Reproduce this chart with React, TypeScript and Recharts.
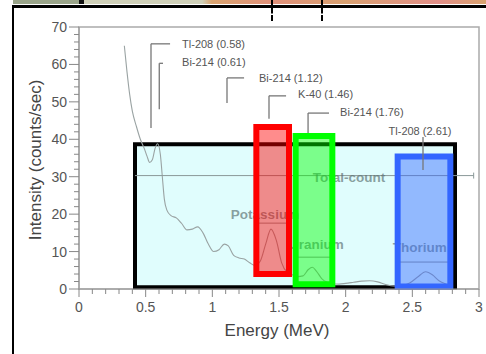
import { LineChart, Line, XAxis, YAxis, ReferenceArea, ReferenceLine, ReferenceDot } from 'recharts';

// gamma-ray spectrum (MeV, counts/sec)
const energy = [
  0.34, 0.36, 0.38, 0.4, 0.43, 0.46, 0.49, 0.51, 0.53, 0.55, 0.57, 0.59, 0.61, 0.625, 0.64, 0.66,
  0.69, 0.73, 0.77, 0.81, 0.85, 0.89, 0.93, 0.97, 1.01, 1.05, 1.09, 1.12, 1.16, 1.2, 1.24, 1.28,
  1.32, 1.36, 1.4, 1.44, 1.48, 1.52, 1.56, 1.6, 1.64, 1.68, 1.72, 1.75, 1.78, 1.82, 1.86, 1.9,
  1.95, 2.0, 2.06, 2.12, 2.18, 2.24, 2.3, 2.36, 2.42, 2.48, 2.54, 2.6, 2.65, 2.7, 2.76, 2.79,
];
const counts = [
  65, 58, 52, 47.5, 43.5, 40, 37.5, 35.5, 33.8, 34.5, 37.5, 38.8, 36, 30, 24, 21,
  19.6, 19, 17.5, 15.8, 16, 16.6, 15, 12, 10, 10.5, 12, 11.5, 9, 8.3, 8, 7,
  6.3, 7.5, 12, 16, 13, 7, 4.5, 3.8, 3.3, 3.5, 5.2, 5.8, 4.8, 2.8, 1.8, 1.4,
  1.3, 1.5, 1.8, 2.1, 2.2, 1.9, 1.2, 0.8, 0.9, 1.6, 3.2, 4.6, 3.8, 2.2, 1.2, 0.8,
];
const spectrum = energy.map((e, i) => ({ e, c: counts[i] }));

const xMajor = [0, 0.5, 1, 1.5, 2, 2.5, 3];
const xTicks = [
  0, 0.1, 0.2, 0.3, 0.4, 0.5, 0.6, 0.7, 0.8, 0.9, 1, 1.1, 1.2, 1.3, 1.4, 1.5,
  1.6, 1.7, 1.8, 1.9, 2, 2.1, 2.2, 2.3, 2.4, 2.5, 2.6, 2.7, 2.8, 2.9, 3,
];
const yMajor = [0, 10, 20, 30, 40, 50, 60, 70];
const yTicks = [
  0, 2, 4, 6, 8, 10, 12, 14, 16, 18, 20, 22, 24, 26, 28, 30, 32, 34, 36,
  38, 40, 42, 44, 46, 48, 50, 52, 54, 56, 58, 60, 62, 64, 66, 68, 70,
];

// counting windows
const windowNames = ['Total-count', 'Potassium', 'Uranium', 'Thorium'];
const windowFrom = [0.42, 1.33, 1.625, 2.39];
const windowTo = [2.82, 1.575, 1.9, 2.785];
const windowLow = [0.5, 4, 1.3, 0.7];
const windowHigh = [38.7, 43.3, 40.9, 35.4];
const windowLevel = [30.3, 17.6, 8.5, 7.2];
const levelEnd = [2.96, 1.575, 1.9, 2.785];
const nameX = [2.025, 1.395, 1.78, 2.555];
const nameY = [29.7, 20, 11.8, 11.2];

// peak annotations
const peakNames = ['Tl-208 (0.58)', 'Bi-214 (0.61)', 'Bi-214 (1.12)', 'K-40 (1.46)', 'Bi-214 (1.76)', 'Tl-208 (2.61)'];
const leaderX = [0.54, 0.602, 1.11, 1.425, 1.718, 2.58];
const leaderLow = [43, 48, 49.7, 45.5, 41.7, 31.8];
const leaderHigh = [65.5, 60.3, 56.4, 51.6, 47, 40.6];
const leaderTo = [0.683, 0.63, 1.238, 1.553, 1.875, 2.58];
const peakLabelX = [0.773, 0.773, 1.35, 1.643, 1.958, 2.558];
const peakLabelY = [65.5, 60.7, 56.4, 52.1, 47.3, 42.2];

const FONT = '"Liberation Sans", Arial, Helvetica, sans-serif';
const boxColors = ['#000000', '#ff0000', '#00ff00', '#3366ff'];

const XTick = (p: any) => {
  const major = xMajor.includes(p.payload.value);
  return (
    <g>
      <line x1={p.x} x2={p.x} y1={p.y} y2={p.y + (major ? 8 : 5)} stroke="#888" />
      {major && (
        <text x={p.x} y={p.y + 23} textAnchor="middle" fontSize={14} fill="#555" fontFamily={FONT}>
          {p.payload.value}
        </text>
      )}
    </g>
  );
};

const YTick = (p: any) => {
  const major = yMajor.includes(p.payload.value);
  return (
    <g>
      <line x1={p.x} x2={p.x - (major ? 10 : 5)} y1={p.y} y2={p.y} stroke="#888" />
      {major && (
        <text x={p.x - 12} y={p.y} textAnchor="end" dominantBaseline="central" fontSize={14} fill="#555" fontFamily={FONT}>
          {p.payload.value}
        </text>
      )}
    </g>
  );
};

const textShape = (label: string, anchor: string, size: number, bold: boolean, color: string) => (p: any) => (
  <text
    x={p.cx}
    y={p.cy}
    textAnchor={anchor}
    dominantBaseline="central"
    fontSize={size}
    fontWeight={bold ? 'bold' : 'normal'}
    fill={color}
    fontFamily={FONT}
  >
    {label}
  </text>
);

export default function App() {
  return (
    <div style={{ position: 'relative', width: 486, height: 354, background: '#fff', overflow: 'hidden' }}>
      <style>{'body{margin:0}'}</style>
      <div
        style={{
          position: 'absolute', left: 13, right: 0, top: 0, height: 4,
          background: 'linear-gradient(90deg,#9aa58a 0%,#9aa58a 14%,#111 14%,#111 15%,#cfd0b8 15%,#cfd0b8 40%,#d9a36f 42%,#e0907a 55%,#d8a070 70%,#e28f88 90%,#d9a36f 100%)',
        }}
      />
      <div style={{ position: 'absolute', left: 12, right: 0, top: 5, height: 3, background: '#000' }} />
      <div style={{ position: 'absolute', left: 12, top: 5, bottom: 0, width: 2, background: '#000' }} />
      <div style={{ position: 'absolute', left: 271, top: 0, height: 21, borderLeft: '2px dashed #000' }} />
      <div style={{ position: 'absolute', left: 321, top: 0, height: 21, borderLeft: '2px dashed #000' }} />
      <div style={{ position: 'absolute', left: 0, top: 0 }}>
        <LineChart width={486} height={354} data={spectrum} margin={{ top: 27, right: 7, bottom: 15, left: 0 }}>
          <XAxis
            dataKey="e"
            type="number"
            domain={[0, 3]}
            ticks={xTicks}
            interval={0}
            height={50}
            tickSize={0}
            tickMargin={0}
            tickLine={false}
            axisLine={{ stroke: '#999' }}
            tick={XTick}
            label={{
              content: (lp: any) => (
                <text
                  x={lp.viewBox.x + lp.viewBox.width / 2 - 2}
                  y={lp.viewBox.y + 47}
                  textAnchor="middle"
                  fontSize={17}
                  fill="#444"
                  fontFamily={FONT}
                >
                  Energy (MeV)
                </text>
              ),
            }}
          />
          <YAxis
            type="number"
            domain={[0, 70]}
            ticks={yTicks}
            interval={0}
            width={79}
            tickSize={0}
            tickMargin={0}
            tickLine={false}
            axisLine={{ stroke: '#999' }}
            tick={YTick}
            label={{
              content: (lp: any) => {
                const cx = lp.viewBox.x + 35;
                const cy = lp.viewBox.y + lp.viewBox.height / 2 + 2;
                return (
                  <text
                    x={cx}
                    y={cy}
                    transform={`rotate(-90 ${cx} ${cy})`}
                    textAnchor="middle"
                    dominantBaseline="central"
                    fontSize={17}
                    fill="#444"
                    fontFamily={FONT}
                  >
                    Intensity (counts/sec)
                  </text>
                );
              },
            }}
          />

          <ReferenceArea x1={0} x2={3} y1={0} y2={70} fill="none" stroke="#aaa" strokeWidth={1.5} zIndex={101} />
          <ReferenceArea
            x1={windowFrom[0]}
            x2={windowTo[0]}
            y1={windowLow[0]}
            y2={windowHigh[0]}
            fill="#e0fdfd"
            fillOpacity={1}
            stroke="#000"
            strokeWidth={4}
            zIndex={102}
          />

          <Line
            dataKey="c"
            type="monotone"
            stroke="#9aa3a3"
            strokeWidth={1.1}
            dot={false}
            activeDot={false}
            isAnimationActive={false}
            zIndex={103}
          />

          {windowNames.map((n, i) => (
            <ReferenceLine
              key={'lv' + n}
              segment={[{ x: windowFrom[i], y: windowLevel[i] }, { x: levelEnd[i], y: windowLevel[i] }]}
              stroke="#8a9898"
              strokeWidth={1}
              zIndex={104}
            />
          ))}
          <ReferenceLine
            segment={[{ x: levelEnd[0], y: windowLevel[0] - 0.8 }, { x: levelEnd[0], y: windowLevel[0] + 0.8 }]}
            stroke="#8a9898"
            zIndex={104}
          />
          {windowNames.map((n, i) => (
            <ReferenceDot
              key={'nm' + n}
              x={nameX[i]}
              y={nameY[i]}
              r={0}
              shape={textShape(n, 'middle', 13.5, true, 'rgba(90,112,112,0.68)')}
              zIndex={105}
            />
          ))}

          {windowNames.slice(1).map((n, j) => {
            const i = j + 1;
            return (
              <ReferenceArea
                key={'bx' + n}
                x1={windowFrom[i]}
                x2={windowTo[i]}
                y1={windowLow[i]}
                y2={windowHigh[i]}
                fill={boxColors[i]}
                fillOpacity={0.45}
                stroke={boxColors[i]}
                strokeOpacity={1}
                strokeWidth={6}
                zIndex={106}
              />
            );
          })}

          {peakNames.map((n, i) => (
            <ReferenceLine
              key={'lv' + i}
              segment={[{ x: leaderX[i], y: leaderLow[i] }, { x: leaderX[i], y: leaderHigh[i] }]}
              stroke="#777"
              strokeWidth={1.3}
              zIndex={107}
            />
          ))}
          {peakNames.map((n, i) =>
            leaderTo[i] !== leaderX[i] ? (
              <ReferenceLine
                key={'lh' + i}
                segment={[{ x: leaderX[i], y: leaderHigh[i] }, { x: leaderTo[i], y: leaderHigh[i] }]}
                stroke="#777"
                strokeWidth={1.3}
                zIndex={107}
              />
            ) : null,
          )}
          {peakNames.map((n, i) => (
            <ReferenceDot
              key={'pl' + i}
              x={peakLabelX[i]}
              y={peakLabelY[i]}
              r={0}
              shape={textShape(n, i === 5 ? 'middle' : 'start', 11, false, '#555')}
              zIndex={107}
            />
          ))}
        </LineChart>
      </div>
    </div>
  );
}
